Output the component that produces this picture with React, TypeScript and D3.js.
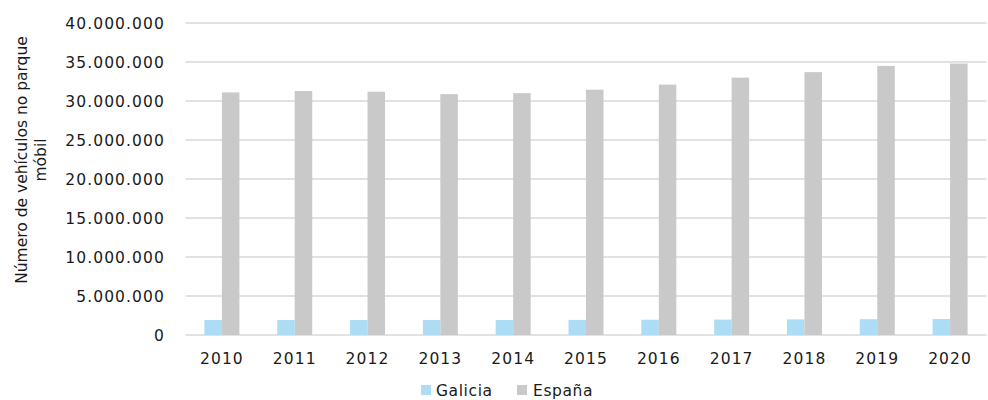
import React from "react";
import * as d3 from "d3";

const years = ["2010","2011","2012","2013","2014","2015","2016","2017","2018","2019","2020"];
const galicia = [1930000,1925000,1920000,1915000,1920000,1935000,1955000,1975000,2000000,2025000,2045000];
const espana = [31100000,31280000,31190000,30880000,31000000,31450000,32100000,33000000,33700000,34500000,34800000];
const yTicks = [0,5000000,10000000,15000000,20000000,25000000,30000000,35000000,40000000];
const seriesNames = ["Galicia","España"];
const colors = ["#ADDCF5","#C9C9C9"];

const W = 988, H = 400;
const left = 185.5, right = 986.5, top = 23, bottom = 335;

export default function App() {
  const x = d3.scaleBand().domain(years).range([left, right]).paddingInner(0).paddingOuter(0);
  const x1 = d3.scaleBand().domain(seriesNames).range([0, 35]);
  const y = d3.scaleLinear().domain([0, 40000000]).range([bottom, top]);
  const fmt = (v: number) => d3.format(",")(v).replace(/,/g, ".");
  const font = "'DejaVu Sans', sans-serif";
  const data = [galicia, espana];
  const txt = "#1a1a1a";
  return (
    <svg width={W} height={H} style={{ position: "absolute", left: 0, top: 0 }} fontFamily={font}>
      <rect width={W} height={H} fill="#fff" />
      {yTicks.map((t) => (
        <g key={t}>
          <line x1={left} x2={right} y1={y(t)} y2={y(t)} stroke="#D9D9D9" strokeWidth={1.3} />
          <text x={165} y={y(t)} dy="0.36em" textAnchor="end" fontSize={15.5} letterSpacing={1.1} fill={txt}>{fmt(t)}</text>
        </g>
      ))}
      {years.map((yr, i) => {
        const cx = x(yr)! + x.bandwidth() / 2;
        return (
          <g key={yr}>
            {data.map((s, j) => (
              <rect key={j} x={cx - 17.5 + x1(seriesNames[j])!} y={y(s[i])} width={x1.bandwidth()} height={bottom - y(s[i])} fill={colors[j]} />
            ))}
            <text x={cx} y={364} textAnchor="middle" fontSize={15.5} letterSpacing={1.1} fill={txt}>{yr}</text>
          </g>
        );
      })}
      <text transform="translate(27,160) rotate(-90)" textAnchor="middle" fontSize={15.5} fill={txt}>
        <tspan x={0} dy={0}>Número de vehículos no parque</tspan>
        <tspan x={0} dy={19}>móbil</tspan>
      </text>
      <g>
        <rect x={421} y={385} width={10} height={10} fill={colors[0]} />
        <text x={436} y={396} fontSize={15.5} letterSpacing={0.6} fill={txt}>Galicia</text>
        <rect x={517} y={385} width={10} height={10} fill={colors[1]} />
        <text x={533} y={396} fontSize={15.5} letterSpacing={0.6} fill={txt}>España</text>
      </g>
    </svg>
  );
}
